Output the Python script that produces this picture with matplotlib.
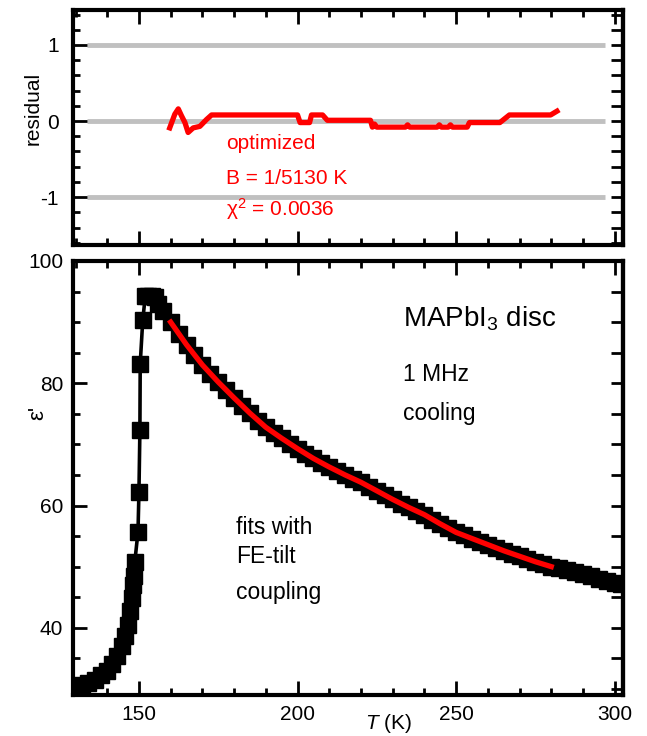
import matplotlib
matplotlib.use('agg')
import matplotlib.pyplot as plt
from matplotlib.ticker import MultipleLocator

plt.rcParams['font.family'] = ['Liberation Sans', 'DejaVu Sans']
plt.rcParams['mathtext.fontset'] = 'custom'
plt.rcParams['mathtext.rm'] = 'Liberation Sans'
plt.rcParams['mathtext.it'] = 'Liberation Sans:italic'
plt.rcParams['axes.unicode_minus'] = False

# measured eps' at 1 MHz, cooling run
temp_meas = [130.5, 132.0, 134.0, 136.0, 138.0, 140.0, 141.5, 143.0, 144.5, 145.5,
             146.5, 147.2, 147.7, 148.1, 148.4, 148.7, 149.7, 150.0, 150.3,
             150.4, 151.2, 152.0, 153.0, 154.0, 155.0, 156.0, 157.5,
             160.0, 162.5, 165.0, 167.5, 170.0, 172.5, 175.0, 177.5, 180.0, 182.5,
             185.0, 187.5, 190.0, 192.5, 195.0, 197.5, 200.0, 202.5, 205.0, 207.5,
             210.0, 212.5, 215.0, 217.5, 220.0, 222.5, 225.0, 227.5, 230.0, 232.5,
             235.0, 237.5, 240.0, 242.5, 245.0, 247.5, 250.0, 252.5, 255.0, 257.5,
             260.0, 262.5, 265.0, 267.5, 270.0, 272.5, 275.0, 277.5, 280.0, 282.5,
             285.0, 287.5, 290.0, 292.5, 295.0, 297.5, 300.0, 302.0]
eps_meas = [30.2, 30.6, 31.0, 31.5, 32.2, 33.0, 34.0, 35.3, 37.0, 38.6,
            40.5, 42.7, 44.8, 47.0, 48.5, 50.8, 55.7, 62.2, 72.4,
            83.2, 90.3, 94.3, 94.3, 94.3, 94.1, 93.0, 91.8,
            90.0, 88.1, 86.3, 84.6, 83.0, 81.5, 80.2, 78.9, 77.6, 76.3,
            75.1, 73.9, 72.8, 71.9, 71.0, 70.1, 69.3, 68.5, 67.7, 67.0,
            66.3, 65.6, 65.0, 64.4, 63.8, 63.1, 62.4, 61.7, 61.0, 60.3,
            59.7, 59.1, 58.5, 57.7, 57.0, 56.3, 55.6, 55.1, 54.6, 54.1,
            53.6, 53.1, 52.6, 52.1, 51.7, 51.2, 50.8, 50.4, 50.0, 49.7,
            49.4, 49.1, 48.8, 48.4, 48.0, 47.7, 47.4, 47.2]

# fit with FE-tilt coupling
temp_fit = [160, 165, 170, 175, 180, 185, 190, 195, 200, 205, 210, 215, 220,
            225, 230, 235, 240, 245, 250, 255, 260, 265, 270, 275, 280]
eps_fit = [90.0, 86.3, 83.0, 80.2, 77.6, 75.1, 72.8, 71.0, 69.3, 67.7, 66.3, 65.0, 63.8,
           62.4, 61.0, 59.7, 58.5, 57.0, 55.6, 54.6, 53.6, 52.6, 51.7, 50.8, 50.0]

# residual of the fit
temp_res = [159.7, 161.3, 162.4, 163.4, 164.5, 165.5, 167.1, 169.2, 171.3, 172.9,
            200.0, 200.8, 203.8, 204.4, 207.9, 209.4, 223.0, 223.6, 224.3, 225.0,
            234.0, 234.7, 235.4, 244.0, 244.7, 245.4, 247.5, 248.2, 248.9, 253.5,
            254.2, 263.8, 266.8, 279.8, 281.8]
res = [-0.09, 0.09, 0.16, 0.07, -0.02, -0.15, -0.09, -0.07, 0.02, 0.08,
       0.08, -0.02, -0.02, 0.08, 0.08, 0.01, 0.01, -0.08, -0.04, -0.08,
       -0.08, -0.05, -0.08, -0.08, -0.05, -0.08, -0.08, -0.05, -0.08, -0.08,
       -0.02, -0.02, 0.08, 0.08, 0.13]
res_grid = [1, 0, -1]


def style_axes(ax, ystep_major, ystep_minor, right_step):
    for sp in ax.spines.values():
        sp.set_linewidth(3)
    ax.xaxis.set_major_locator(MultipleLocator(50))
    ax.xaxis.set_minor_locator(MultipleLocator(10))
    ax.yaxis.set_major_locator(MultipleLocator(ystep_major))
    ax.yaxis.set_minor_locator(MultipleLocator(ystep_minor))
    ax.tick_params(which='both', direction='in', top=True, right=False, width=2,
                   labelsize=15)
    ax.tick_params(which='major', length=10, pad=7)
    ax.tick_params(which='minor', length=5)
    sec = ax.secondary_yaxis('right')
    sec.yaxis.set_major_locator(MultipleLocator(right_step))
    sec.tick_params(direction='in', length=9, width=2, labelright=False)
    sec.spines['right'].set_linewidth(3)


fig = plt.figure(figsize=(6.47, 7.36), dpi=100)
ax1 = fig.add_axes([0.1128, 0.6671, 0.850, 0.3193])
ax2 = fig.add_axes([0.1128, 0.0557, 0.850, 0.5897])

# residual panel
ax1.hlines(res_grid, 133.6, 297, color='#c0c0c0', lw=3.5, zorder=1)
ax1.plot(temp_res, res, color='red', lw=3.8, zorder=3)
ax1.set_xlim(129.2, 302.6)
ax1.set_ylim(-1.63, 1.46)
style_axes(ax1, 1, 0.2, 0.2)
ax1.set_yticks([-1, 0, 1])
ax1.set_yticklabels(['-1', '0', '1'])
ax1.tick_params(labelbottom=False, pad=10)
ax1.set_ylabel('residual', fontsize=15)
ax1.yaxis.set_label_coords(-0.055, 0.583)
ax1.text(177.6, -0.37, 'optimized', color='red', fontsize=15)
ax1.text(177.6, -0.825, 'B = 1/5130 K', color='red', fontsize=15)
ax1.text(177.6, -1.25, 'χ$^2$ = 0.0036', color='red', fontsize=15)

# permittivity panel
ax2.plot(temp_meas, eps_meas, '-', color='k', lw=2.6, marker='s', ms=11.5, zorder=2)
ax2.plot(temp_fit, eps_fit, color='red', lw=3.8, zorder=3)
ax2.set_xlim(129.2, 302.6)
ax2.set_ylim(29, 100)
style_axes(ax2, 20, 5, 5)
ax2.set_ylabel("ε'", fontsize=16)
ax2.yaxis.set_label_coords(-0.045, 0.65)
ax2.set_xlabel('$\\mathit{T}$ (K)', fontsize=15)
ax2.xaxis.set_label_coords(0.573, -0.039)
ax2.text(233.3, 89.3, 'MAPbI$_3$ disc', fontsize=20)
ax2.text(233.3, 80.3, '1 MHz', fontsize=16.5)
ax2.text(233.3, 74.0, 'cooling', fontsize=16.5)
ax2.text(180.5, 55.4, 'fits with', fontsize=16.5)
ax2.text(180.5, 50.6, 'FE-tilt', fontsize=16.5)
ax2.text(180.5, 44.7, 'coupling', fontsize=16.5)

plt.savefig('out.png', dpi=100)
plt.close('all')
